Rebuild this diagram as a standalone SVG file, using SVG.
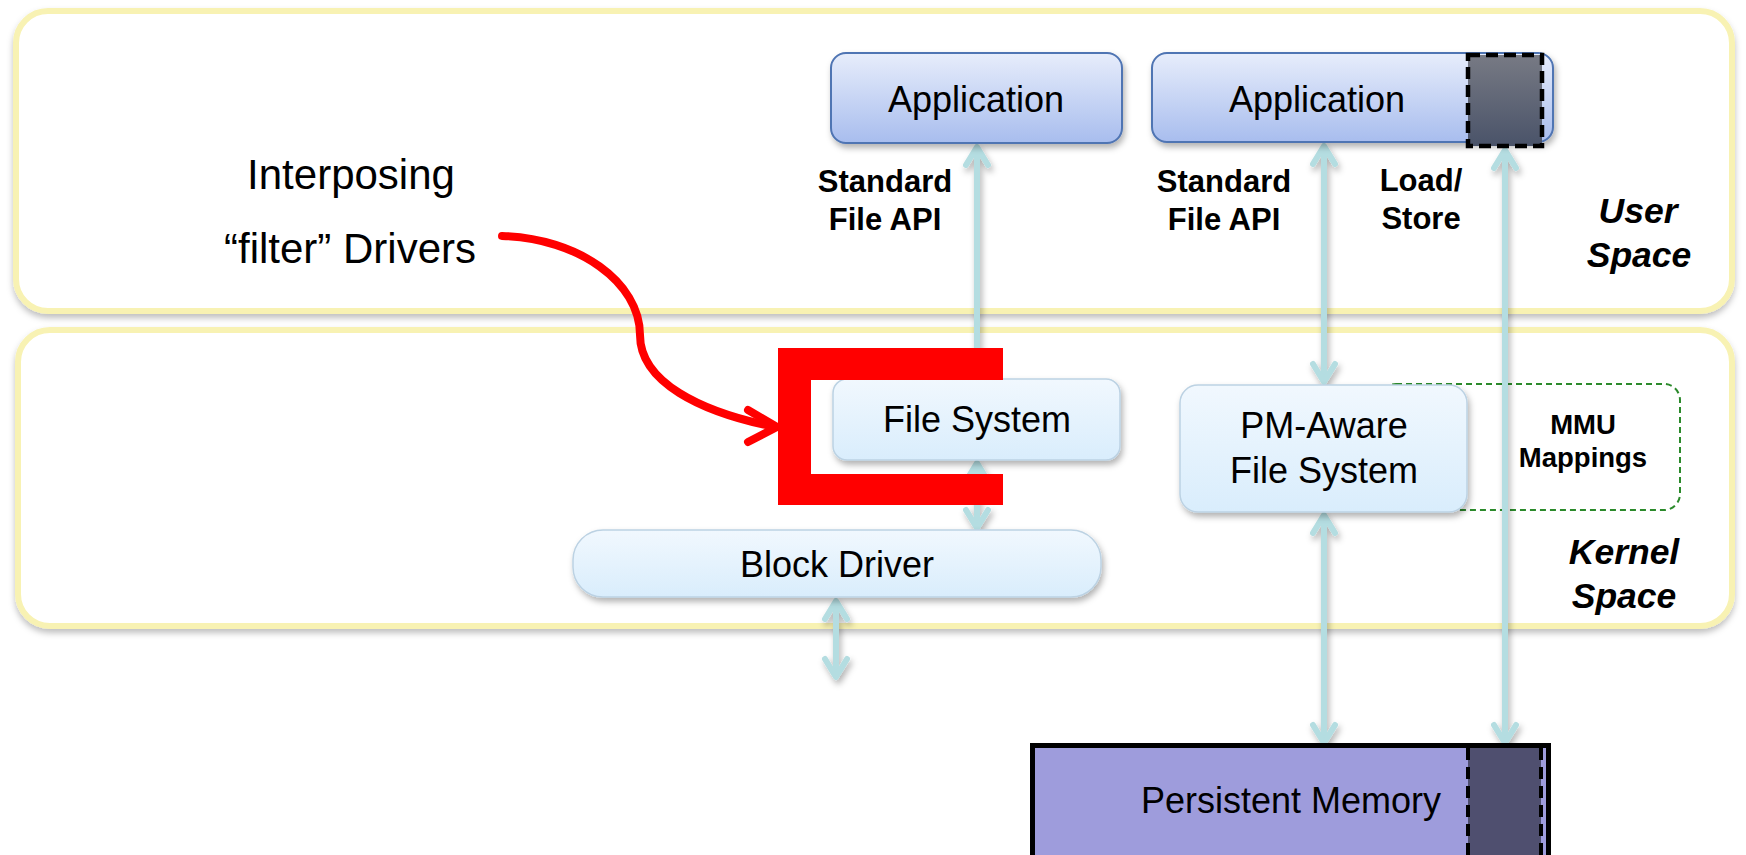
<svg xmlns="http://www.w3.org/2000/svg" width="1746" height="855" viewBox="0 0 1746 855">
  <defs>
    <style>
      .txt { font-family: "Liberation Sans", Arial, sans-serif; fill: #000; }
      .node { font-size: 36px; text-anchor: middle; }
      .lbl { font-size: 31px; font-weight: bold; text-anchor: middle; }
      .space { font-size: 35.5px; font-weight: bold; font-style: italic; text-anchor: middle; }
      .frame { fill: #ffffff; stroke: #f8f2b3; stroke-width: 6; }
      .app { fill: url(#appGrad); stroke: #4f74b3; stroke-width: 2; }
      .kbox { fill: url(#kGrad); stroke: #bcd2e3; stroke-width: 1.5; }
      .link { fill: none; stroke: #b4dde1; stroke-width: 6; marker-start: url(#chev); marker-end: url(#chev); }
      .red { fill: none; stroke: #ff0000; stroke-width: 8; stroke-linecap: round; stroke-linejoin: round; }
    </style>
    <linearGradient id="appGrad" x1="0" y1="0" x2="0" y2="1">
      <stop offset="0" stop-color="#e7edfb"/>
      <stop offset="1" stop-color="#a8bdee"/>
    </linearGradient>
    <linearGradient id="kGrad" x1="0" y1="0" x2="0" y2="1">
      <stop offset="0" stop-color="#f1f8fe"/>
      <stop offset="1" stop-color="#d9edfc"/>
    </linearGradient>
    <linearGradient id="mapGrad" x1="0" y1="0" x2="0" y2="1">
      <stop offset="0" stop-color="#777a84"/>
      <stop offset="1" stop-color="#4a5369"/>
    </linearGradient>
    <filter id="shadow" x="-10%" y="-10%" width="120%" height="130%">
      <feDropShadow dx="2" dy="4" stdDeviation="3" flood-color="#000" flood-opacity="0.3"/>
    </filter>
    <filter id="frameShadow" x="-5%" y="-10%" width="110%" height="120%">
      <feDropShadow dx="0" dy="4" stdDeviation="3" flood-color="#000" flood-opacity="0.25"/>
    </filter>
    <marker id="chev" viewBox="-24 -15 30 30" refX="0" refY="0" markerWidth="30" markerHeight="30" markerUnits="userSpaceOnUse" orient="auto-start-reverse">
      <path d="M-19,-11 L-1,0 L-19,11" fill="none" stroke="#b4dde1" stroke-width="6" stroke-linecap="round" stroke-linejoin="round"/>
    </marker>
  </defs>

  <!-- user / kernel space frames -->
  <g id="user-space">
    <rect class="frame" x="16" y="11" width="1716" height="300" rx="32" filter="url(#frameShadow)"/>
    <text class="txt space" x="1638" y="223">User</text>
    <text class="txt space" x="1639" y="267">Space</text>
  </g>
  <g id="kernel-space">
    <rect class="frame" x="18" y="330" width="1714" height="296" rx="32" filter="url(#frameShadow)"/>
    <text class="txt space" x="1624" y="564">Kernel</text>
    <text class="txt space" x="1624" y="608">Space</text>
  </g>

  <!-- MMU mappings region -->
  <g id="mmu-mappings">
    <rect x="1380" y="384" width="300" height="126" rx="16" fill="none" stroke="#2b8a2b" stroke-width="2" stroke-dasharray="6 4"/>
    <text class="txt" x="1583" y="434" font-size="27.5" font-weight="bold" text-anchor="middle">MMU</text>
    <text class="txt" x="1583" y="467" font-size="27.5" font-weight="bold" text-anchor="middle">Mappings</text>
  </g>

  <!-- connectors -->
  <g id="connectors" filter="url(#shadow)">
    <line class="link" x1="977" y1="146" x2="977" y2="378"/>
    <line class="link" x1="977" y1="462" x2="977" y2="529"/>
    <line class="link" x1="836" y1="600" x2="836" y2="678"/>
    <line class="link" x1="1324" y1="145" x2="1324" y2="383"/>
    <line class="link" x1="1324" y1="514" x2="1324" y2="744"/>
    <line class="link" x1="1505" y1="149" x2="1505" y2="744"/>
  </g>

  <g id="app1">
    <rect class="app" x="831" y="53" width="291" height="90" rx="15" filter="url(#shadow)"/>
    <text class="txt node" x="976" y="112">Application</text>
  </g>
  <g id="app2">
    <rect class="app" x="1152" y="53" width="401" height="89" rx="15" filter="url(#shadow)"/>
    <rect x="1468" y="55" width="74" height="91" fill="url(#mapGrad)" stroke="#000" stroke-width="4.5" stroke-dasharray="12 6"/>
    <text class="txt node" x="1317" y="112">Application</text>
  </g>

  <g id="api-labels">
    <text class="txt lbl" x="885" y="192">Standard</text>
    <text class="txt lbl" x="885" y="230">File API</text>
    <text class="txt lbl" x="1224" y="192">Standard</text>
    <text class="txt lbl" x="1224" y="230">File API</text>
    <text class="txt lbl" x="1421" y="191">Load/</text>
    <text class="txt lbl" x="1421" y="229">Store</text>
  </g>

  <g id="file-system">
    <rect class="kbox" x="833" y="379" width="287" height="81" rx="14" filter="url(#shadow)"/>
    <text class="txt node" x="977" y="432">File System</text>
  </g>
  <g id="block-driver">
    <rect class="kbox" x="573" y="530" width="528" height="67" rx="30" filter="url(#shadow)"/>
    <text class="txt node" x="837" y="577">Block Driver</text>
  </g>
  <g id="pm-aware-fs">
    <rect class="kbox" x="1180" y="385" width="287" height="127" rx="18" filter="url(#shadow)"/>
    <text class="txt node" x="1324" y="438">PM-Aware</text>
    <text class="txt node" x="1324" y="483">File System</text>
  </g>

  <g id="persistent-memory">
    <rect x="1032.5" y="745.5" width="516" height="130" fill="#9e9cdc" stroke="#000" stroke-width="5"/>
    <rect x="1468" y="748" width="73" height="110" fill="#4f4f6f"/>
    <line x1="1468" y1="748" x2="1468" y2="855" stroke="#000" stroke-width="4" stroke-dasharray="12 7"/>
    <line x1="1541" y1="748" x2="1541" y2="855" stroke="#000" stroke-width="4" stroke-dasharray="12 7"/>
    <text class="txt node" x="1291" y="813">Persistent Memory</text>
  </g>

  <!-- interposing filter driver bracket and callout -->
  <g id="filter-bracket">
    <path d="M778,348 H1003 V380 H811 V474 H1003 V505 H778 Z" fill="#ff0000"/>
  </g>
  <g id="filter-callout">
    <text class="txt" x="351" y="189" font-size="42" text-anchor="middle">Interposing</text>
    <text class="txt" x="350" y="263" font-size="42" text-anchor="middle">“filter” Drivers</text>
    <path class="red" d="M502,236 C578,238 640,282 640,335 C640,382 700,412 775,427"/>
    <path class="red" d="M748,410 L777,427 L748,442"/>
  </g>
</svg>
